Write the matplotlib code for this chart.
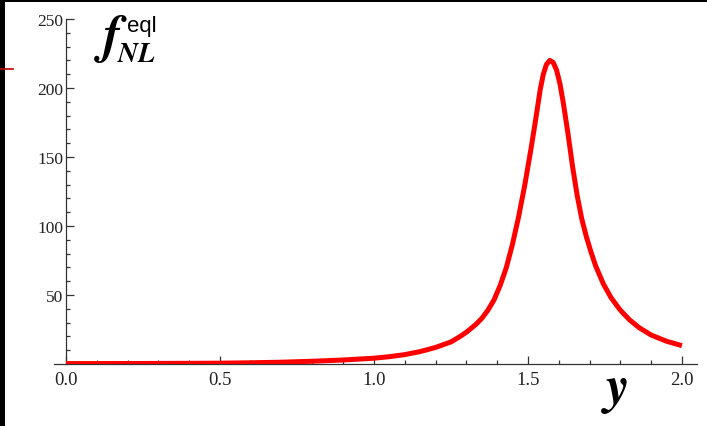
import numpy as np
import matplotlib
matplotlib.use("Agg")
import matplotlib.pyplot as plt
from matplotlib.ticker import MultipleLocator, FixedLocator, FormatStrFormatter
from matplotlib.patches import Rectangle
from matplotlib.lines import Line2D

plt.rcParams["mathtext.fontset"] = "stix"

# values
y_vals = [0.0, 0.2, 0.4, 0.5, 0.6, 0.7, 0.8, 0.9, 1.0, 1.05, 1.1, 1.15, 1.2,
          1.25, 1.28, 1.3, 1.33, 1.35, 1.37, 1.39, 1.41, 1.43, 1.45, 1.47,
          1.49, 1.51, 1.525, 1.54, 1.55, 1.56, 1.571, 1.582, 1.593, 1.604,
          1.615, 1.63, 1.645, 1.66, 1.675, 1.69, 1.705, 1.72, 1.745, 1.77,
          1.8, 1.83, 1.86, 1.9, 1.95, 2.0]
fnl_vals = [0.3, 0.35, 0.5, 0.6, 0.9, 1.3, 2.0, 2.9, 4.2, 5.3, 6.8, 9.0, 12.0,
            16.0, 20.0, 23.0, 28.5, 33.0, 39.0, 46.5, 57.0, 70.0, 87.0, 107.0,
            130.0, 156.0, 177.0, 199.0, 210.0, 217.0, 220.0, 218.5, 213.0, 203.0,
            189.0, 167.0, 143.0, 122.0, 105.0, 92.0, 81.0, 71.0, 58.0, 48.0,
            39.0, 32.0, 26.5, 21.0, 16.5, 13.3]
xticks = [0.0, 0.5, 1.0, 1.5, 2.0]
yticks = [50, 100, 150, 200, 250]

W, H = 707, 427
fig = plt.figure(figsize=(W / 100, H / 100), dpi=100)
ax = fig.add_axes([54 / W, (H - 365) / H, 643 / W, 345 / H])

ax.plot(y_vals, fnl_vals, color="#ff0000", lw=3.6, solid_capstyle="butt",
        solid_joinstyle="round", zorder=3)

ax.set_xlim(-0.039, 2.049)
ax.set_ylim(0, 250)
ax.spines["top"].set_visible(False)
ax.spines["right"].set_visible(False)
ax.spines["left"].set_position(("data", 0))
for s in ("left", "bottom"):
    ax.spines[s].set_color("#333333")
    ax.spines[s].set_linewidth(0.9)

ax.xaxis.set_major_locator(FixedLocator(xticks))
ax.xaxis.set_minor_locator(MultipleLocator(0.1))
ax.yaxis.set_major_locator(FixedLocator(yticks))
ax.yaxis.set_minor_locator(FixedLocator([v for v in range(10, 251, 10) if v % 50]))
ax.xaxis.set_major_formatter(FormatStrFormatter("%.1f"))
ax.tick_params(which="both", direction="in", color="#333333", width=0.9,
               labelcolor="#222222")
ax.tick_params(which="major", length=5.5)
ax.tick_params(which="minor", length=3)
ax.tick_params(axis="x", pad=5, labelsize=13.5)
ax.tick_params(axis="y", pad=2, labelsize=12.5)
for lab in ax.get_xticklabels() + ax.get_yticklabels():
    lab.set_family("Liberation Serif")

# axis labels
fig.text(94 / W, 1 - 52 / H, r"$\mathbfit{f}$", fontsize=38,
         ha="left", va="baseline")
fig.text(117 / W, 1 - 62 / H, r"$\mathbfit{NL}$", fontsize=20,
         ha="left", va="baseline")
fig.text(127 / W, 1 - 32 / H, "eql", family="Liberation Sans",
         fontsize=16, ha="left", va="baseline")
fig.text(601 / W, 1 - 403 / H, r"$\mathbfit{y}$", fontsize=38,
         ha="left", va="baseline")

# slide border pieces
fig.add_artist(Rectangle((0, 0), 4.5 / W, 1, transform=fig.transFigure,
                         color="black", lw=0))
fig.add_artist(Rectangle((0, 1 - 3 / H), 1, 3 / H, transform=fig.transFigure,
                         color="black", lw=0))
fig.add_artist(Line2D([0, 13 / W], [1 - 70 / H, 1 - 70 / H],
                      transform=fig.transFigure, color="#c00000", lw=1.2))

fig.savefig("out.png", dpi=100)
